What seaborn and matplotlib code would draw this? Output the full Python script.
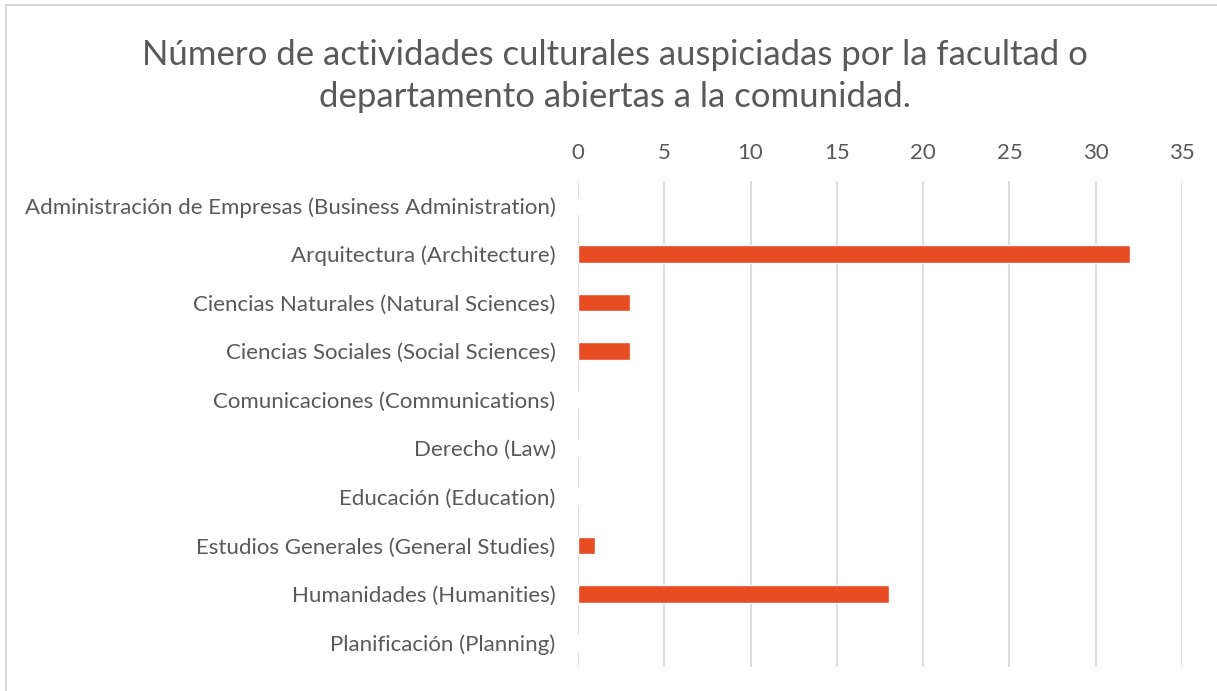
import matplotlib
matplotlib.use('Agg')
import matplotlib.pyplot as plt
import seaborn as sns
import pandas as pd

categories = ['Administración de Empresas (Business Administration)',
              'Arquitectura (Architecture)',
              'Ciencias Naturales (Natural Sciences)',
              'Ciencias Sociales (Social Sciences)',
              'Comunicaciones (Communications)',
              'Derecho (Law)',
              'Educación (Education)',
              'Estudios Generales (General Studies)',
              'Humanidades (Humanities)',
              'Planificación (Planning)']
values = [0, 32, 3, 3, 0, 0, 0, 1, 18, 0]
xticks = [0, 5, 10, 15, 20, 25, 30, 35]

title = 'Número de actividades culturales auspiciadas por la facultad o\ndepartamento abiertas a la comunidad.'

sns.set_theme(style='white')
plt.rcParams['font.family'] = ['Lato', 'DejaVu Sans']
text_col = '#595959'
grid_col = '#D9D9D9'
bar_col = '#E84C22'

df = pd.DataFrame({'cat': categories, 'val': values})

fig = plt.figure(figsize=(12.17, 6.91), dpi=100)
ax = fig.add_axes([0.4749, 0.0347, 0.4964, 0.7033])

sns.barplot(data=df, x='val', y='cat', orient='h', color=bar_col,
            width=0.36, saturation=1, ax=ax)

ax.set_xlim(0, 35)
ax.set_ylim(9.5, -0.5)
ax.set_xticks(xticks)
ax.xaxis.tick_top()
ax.set_xlabel('')
ax.set_ylabel('')
for s in ax.spines.values():
	s.set_visible(False)
ax.grid(axis='x', color=grid_col, linewidth=1.3)
ax.grid(axis='y', visible=False)
ax.set_axisbelow(True)
ax.tick_params(axis='x', length=0, pad=13, labelsize=16, colors=text_col)
ax.tick_params(axis='y', length=0, pad=16, labelsize=16, colors=text_col)

fig.text(0.505, 0.890, title, ha='center', va='center', fontsize=25,
         color=text_col, linespacing=1.4)

# outer chart border (only left/top visible in the crop)
fig.add_artist(plt.Rectangle((6 / 1217, -0.1), 1.2, 1 - 5 / 691 + 0.1,
                             transform=fig.transFigure, fill=False,
                             edgecolor=grid_col, linewidth=1.5))

fig.savefig('out.png', dpi=100)
